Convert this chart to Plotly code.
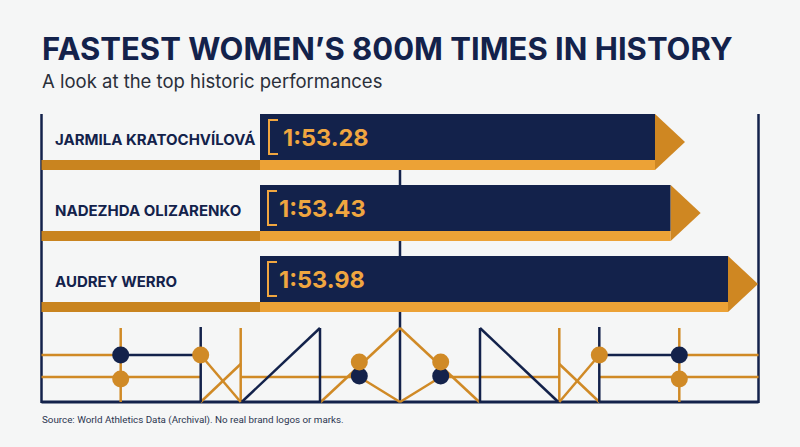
import plotly.graph_objects as go

# data
athletes = ['JARMILA KRATOCHVÍLOVÁ', 'NADEZHDA OLIZARENKO', 'AUDREY WERRO']
times_sec = [113.28, 113.43, 113.98]

W, H = 800, 447
NAVY = '#13224b'
OR_LIGHT = '#eca236'
OR_DARK = '#c9841f'
OR_TEXT = '#f0a640'
OR_LINE = '#d08a26'
BG = '#f5f6f6'

X_RANGE = [107.0, 114.67]
bar_base = X_RANGE[0] + 260 / W * (X_RANGE[1] - X_RANGE[0])
row_top = [114 + 71 * i for i in range(len(athletes))]


def fmt(t):
  return '%d:%05.2f' % (int(t // 60), t % 60)


def px(x):
  return x / W


fig = go.Figure()
fig.add_trace(go.Bar(
  orientation='h', y=[t + 23 for t in row_top], x=[v - bar_base for v in times_sec],
  base=bar_base, width=46, marker=dict(color=NAVY, line=dict(width=0)),
  hoverinfo='skip', showlegend=False))
fig.add_trace(go.Bar(
  orientation='h', y=[t + 51 for t in row_top], x=[v - bar_base for v in times_sec],
  base=bar_base, width=10, marker=dict(color=OR_LIGHT, line=dict(width=0)),
  hoverinfo='skip', showlegend=False))

shapes = []
annotations = []


def line(x0, y0, x1, y1, color, width=2.5, layer='above'):
  shapes.append(dict(type='line', xref='paper', yref='y', x0=px(x0), y0=y0, x1=px(x1), y1=y1,
                     line=dict(color=color, width=width), layer=layer))


def dot(x, y, color, r=8.5):
  shapes.append(dict(type='circle', xref='paper', yref='y', x0=px(x - r), x1=px(x + r),
                     y0=y - r, y1=y + r, fillcolor=color, line=dict(width=0)))


# frame
line(400, 170, 400, 402, NAVY, layer='below')
line(41.5, 114, 41.5, 403, NAVY)
line(758.5, 114, 758.5, 403, NAVY)
line(41.5, 402, 758.5, 402, NAVY, width=3)

for i, top in enumerate(row_top):
  # arrow tip
  shapes.append(dict(type='path', xref='x', xsizemode='pixel', xanchor=times_sec[i], yref='y',
                     path='M0,%d L30,%d L0,%d Z' % (top, top + 28, top + 56),
                     fillcolor='#cf8722', line=dict(width=0)))
  # dark strip under label
  shapes.append(dict(type='rect', xref='paper', yref='y', x0=px(41.5), x1=px(260),
                     y0=top + 46, y1=top + 56, fillcolor=OR_DARK, line=dict(width=0)))
  # bracket
  bx = 269 if i == 0 else 268
  shapes.append(dict(type='path', xref='paper', yref='y',
                     path='M%f,%d L%f,%d L%f,%d L%f,%d' % (px(bx + 9), top + 6, px(bx), top + 6,
                                                          px(bx), top + 40, px(bx + 9), top + 40),
                     line=dict(color=OR_TEXT, width=2)))
  annotations.append(dict(x=px(53), y=top + 25, xref='paper', yref='y', xanchor='left',
                          yanchor='middle', showarrow=False, text=athletes[i],
                          font=dict(family='Inter', size=15, color=NAVY, weight='bold')))
  annotations.append(dict(x=px(281 if i == 0 else 277), y=top + 23, xref='paper', yref='y',
                          xanchor='left', yanchor='middle', showarrow=False,
                          text=fmt(times_sec[i]),
                          font=dict(family='Inter', size=23.5, color=OR_TEXT, weight='bold')))

# decorative pattern, left half then mirrored
orange_segs = [(41.5, 355, 120.7, 355), (120.7, 328, 120.7, 402), (41.5, 377, 200.7, 377),
               (240.7, 328, 240.7, 402), (200.7, 355, 240.7, 402), (200.7, 402, 240.7, 364),
               (240.7, 377, 359.3, 377), (320.7, 402, 400, 328), (359.3, 377, 400, 402)]
navy_segs = [(120.7, 355, 200.7, 355), (200.7, 327, 200.7, 402), (241.7, 402, 320, 328),
             (320, 328, 320, 402)]
navy_dots = [(120.7, 355), (359.3, 376)]
orange_dots = [(120.7, 379), (200.7, 355), (359.3, 362)]

for mirror in (False, True):
  f = (lambda x: W - x) if mirror else (lambda x: x)
  for s in orange_segs:
    line(f(s[0]), s[1], f(s[2]), s[3], OR_LINE)
  for s in navy_segs:
    line(f(s[0]), s[1], f(s[2]), s[3], NAVY)
  for d in navy_dots:
    dot(f(d[0]), d[1], NAVY)
  for d in orange_dots:
    dot(f(d[0]), d[1], OR_LINE)

annotations.append(dict(x=px(40), y=48, xref='paper', yref='y', xanchor='left', yanchor='middle',
                        showarrow=False, text='FASTEST WOMEN’S 800M TIMES IN HISTORY',
                        font=dict(family='Inter', size=31, color=NAVY, weight='bold')))
annotations.append(dict(x=px(40), y=81, xref='paper', yref='y', xanchor='left', yanchor='middle',
                        showarrow=False, text='A look at the top historic performances',
                        font=dict(family='Inter', size=18.5, color='#2a2f3a')))
annotations.append(dict(x=px(40), y=420, xref='paper', yref='y', xanchor='left', yanchor='middle',
                        showarrow=False,
                        text='Source: World Athletics Data (Archival). No real brand logos or marks.',
                        font=dict(family='Liberation Sans Narrow, Roboto', size=9.8, color='#2b3550')))

fig.update_layout(
  width=W, height=H, margin=dict(l=0, r=0, t=0, b=0),
  paper_bgcolor=BG, plot_bgcolor=BG, barmode='overlay',
  xaxis=dict(range=X_RANGE, visible=False, fixedrange=True),
  yaxis=dict(range=[H, 0], visible=False, fixedrange=True),
  shapes=shapes, annotations=annotations,
)
fig.write_html('out.html', config={'displayModeBar': False},
               post_script="document.body.style.margin='0';")
